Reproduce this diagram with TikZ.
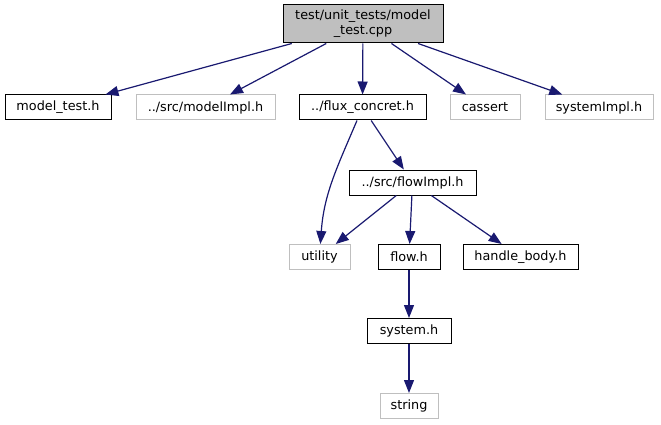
\documentclass[tikz,border=0pt]{standalone}
\usepackage{fontspec}
\setmainfont{DejaVu Sans}
\usetikzlibrary{arrows.meta}
\definecolor{edgec}{HTML}{191970}
\definecolor{grayb}{HTML}{BFBFBF}
\tikzset{
  box/.style={draw=black, line width=1pt, minimum height=25pt, inner sep=0pt,
    font=\fontsize{12.8}{15}\selectfont, text=black},
  ext/.style={box, draw=grayb},
  rootbox/.style={box, fill=grayb, align=center, minimum height=38pt},
  edge/.style={draw=edgec, line width=1.2pt, -{Triangle[length=13pt,width=10pt]}}
}
\begin{document}
\begin{tikzpicture}[x=1pt,y=-1pt]
\useasboundingbox (0,0) rectangle (661,425);
\node[rootbox, minimum width=160pt] (top) at (363,24) {test/unit\_tests/model\\\_test.cpp};
\node[box, minimum width=106pt] (mt) at (58,107.5) {model\_test.h};
\node[ext, minimum width=139pt] (mi) at (205.5,107.5) {../src/modelImpl.h};
\node[box, minimum width=127pt] (fc) at (362.5,107.5) {../flux\_concret.h};
\node[ext, minimum width=70pt] (ca) at (485,107.5) {cassert};
\node[ext, minimum width=108pt] (si) at (599,107.5) {systemImpl.h};
\node[box, minimum width=127pt] (fi) at (412.5,182.5) {../src/flowImpl.h};
\node[ext, minimum width=61pt] (ut) at (319.5,257) {utility};
\node[box, minimum width=62pt] (fl) at (409,257) {flow.h};
\node[box, minimum width=115pt] (hb) at (520.5,257) {handle\_body.h};
\node[box, minimum width=84pt] (sy) at (409,331) {system.h};
\node[ext, minimum width=58pt] (st) at (409,406) {string};
\draw[edge] (top) -- (mt);
\draw[edge] (top) -- (mi);
\draw[edge] (top) -- (fc);
\draw[edge] (top) -- (ca);
\draw[edge] (top) -- (si);
\draw[edge] (fc) -- (fi);
\draw[edge] (fc) to[out=-113,in=86] (ut);
\draw[edge] (fi) -- (ut);
\draw[edge] (fi) -- (fl);
\draw[edge] (fi) -- (hb);
\draw[edge] (fl) -- (sy);
\draw[edge] (sy) -- (st);
\end{tikzpicture}
\end{document}
